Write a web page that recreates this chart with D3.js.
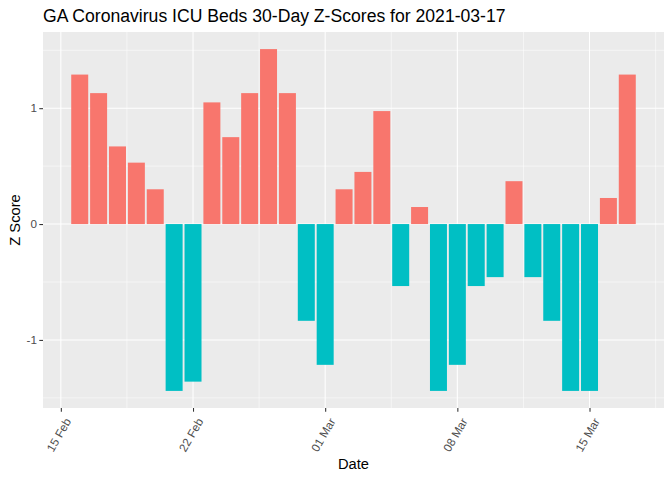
<!DOCTYPE html>
<html>
<head>
<meta charset="utf-8">
<script src="https://cdn.jsdelivr.net/npm/d3@7"></script>
<style>
  body { margin: 0; background: #fff; }
  svg { display: block; font-family: "Liberation Sans", Arial, sans-serif; }
</style>
</head>
<body>
<svg width="672" height="480"></svg>
<script>
const dates = [
  "2021-02-16", "2021-02-17", "2021-02-18", "2021-02-19", "2021-02-20",
  "2021-02-21", "2021-02-22", "2021-02-23", "2021-02-24", "2021-02-25",
  "2021-02-26", "2021-02-27", "2021-02-28", "2021-03-01", "2021-03-02",
  "2021-03-03", "2021-03-04", "2021-03-05", "2021-03-06", "2021-03-07",
  "2021-03-08", "2021-03-09", "2021-03-10", "2021-03-11", "2021-03-12",
  "2021-03-13", "2021-03-14", "2021-03-15", "2021-03-16", "2021-03-17"
];
const zScores = [
  1.29, 1.13, 0.67, 0.53, 0.30,
  -1.44, -1.36, 1.05, 0.75, 1.13,
  1.51, 1.13, -0.835, -1.215, 0.30,
  0.45, 0.975, -0.535, 0.147, -1.44,
  -1.215, -0.535, -0.458, 0.37, -0.458,
  -0.835, -1.44, -1.44, 0.225, 1.29
];
const xTickDates = ["2021-02-15", "2021-02-22", "2021-03-01", "2021-03-08", "2021-03-15"];
const yTicks = [-1, 0, 1];
const titleText = "GA Coronavirus ICU Beds 30-Day Z-Scores for 2021-03-17";

const parse = d3.utcParse("%Y-%m-%d");
const fmt = d3.utcFormat("%d %b");
const DAY = 86400000;

const data = dates.map((d, i) => ({date: parse(d), z: zScores[i]}));

const svg = d3.select("svg");
const panel = {left: 43, right: 664, top: 32, bottom: 408};

// ggplot style expansion of 5% on both axes
const barW = 0.9;
let xMin = d3.min(data, d => d.date.getTime()) - barW / 2 * DAY;
let xMax = d3.max(data, d => d.date.getTime()) + barW / 2 * DAY;
let xPad = (xMax - xMin) * 0.05;
const x = d3.scaleUtc()
  .domain([new Date(xMin - xPad), new Date(xMax + xPad)])
  .range([panel.left, panel.right]);

let yMin = Math.min(0, d3.min(zScores));
let yMax = Math.max(0, d3.max(zScores));
let yPad = (yMax - yMin) * 0.05;
const y = d3.scaleLinear()
  .domain([yMin - yPad, yMax + yPad])
  .range([panel.bottom, panel.top]);

// panel background
svg.append("rect")
  .attr("x", panel.left).attr("y", panel.top)
  .attr("width", panel.right - panel.left)
  .attr("height", panel.bottom - panel.top)
  .attr("fill", "#EBEBEB");

// minor grid
const yMinor = [-1.5, -0.5, 0.5, 1.5].filter(v => v >= y.domain()[0] && v <= y.domain()[1]);
const xMajor = xTickDates.map(parse);
const xMinor = [];
xMajor.forEach((d, i) => {
  xMinor.push(new Date(d.getTime() - 3.5 * DAY));
});
xMinor.push(new Date(xMajor[xMajor.length - 1].getTime() + 3.5 * DAY));
const xMinorIn = xMinor.filter(d => d >= x.domain()[0] && d <= x.domain()[1]);

const grid = svg.append("g");
grid.selectAll(".ymin").data(yMinor).join("line")
  .attr("x1", panel.left).attr("x2", panel.right)
  .attr("y1", d => y(d)).attr("y2", d => y(d))
  .attr("stroke", "#fff").attr("stroke-width", 0.53);
grid.selectAll(".xmin").data(xMinorIn).join("line")
  .attr("y1", panel.top).attr("y2", panel.bottom)
  .attr("x1", d => x(d)).attr("x2", d => x(d))
  .attr("stroke", "#fff").attr("stroke-width", 0.53);
grid.selectAll(".ymaj").data(yTicks).join("line")
  .attr("x1", panel.left).attr("x2", panel.right)
  .attr("y1", d => y(d)).attr("y2", d => y(d))
  .attr("stroke", "#fff").attr("stroke-width", 1.07);
grid.selectAll(".xmaj").data(xMajor).join("line")
  .attr("y1", panel.top).attr("y2", panel.bottom)
  .attr("x1", d => x(d)).attr("x2", d => x(d))
  .attr("stroke", "#fff").attr("stroke-width", 1.07);

// bars
const bw = x(new Date(barW * DAY)) - x(new Date(0));
svg.append("g").selectAll("rect").data(data).join("rect")
  .attr("x", d => x(d.date) - bw / 2)
  .attr("width", bw)
  .attr("y", d => y(Math.max(0, d.z)))
  .attr("height", d => Math.abs(y(d.z) - y(0)))
  .attr("fill", d => d.z > 0 ? "#F8766D" : "#00BFC4");

// axes
const xAxis = svg.append("g")
  .attr("transform", `translate(0,${panel.bottom})`)
  .call(d3.axisBottom(x).tickValues(xMajor).tickFormat(fmt).tickSize(3.7).tickSizeOuter(0));
xAxis.select(".domain").remove();
xAxis.selectAll(".tick line").attr("stroke", "#333").attr("stroke-width", 1.07);
xAxis.selectAll(".tick text")
  .attr("fill", "#4D4D4D")
  .style("font-size", "11.7px")
  .attr("text-anchor", "end")
  .attr("x", 0).attr("y", 0).attr("dy", "0.71em")
  .attr("transform", "translate(3,9) rotate(-60)");

const yAxis = svg.append("g")
  .attr("transform", `translate(${panel.left},0)`)
  .call(d3.axisLeft(y).tickValues(yTicks).tickFormat(d => String(d)).tickSize(3.7).tickSizeOuter(0));
yAxis.select(".domain").remove();
yAxis.selectAll(".tick line").attr("stroke", "#333").attr("stroke-width", 1.07);
yAxis.selectAll(".tick text")
  .attr("fill", "#4D4D4D")
  .style("font-size", "11.7px")
  .attr("x", -6);

// titles
svg.append("text")
  .attr("x", panel.left).attr("y", 22)
  .style("font-size", "17.6px")
  .attr("fill", "#000")
  .text(titleText);

svg.append("text")
  .attr("x", (panel.left + panel.right) / 2).attr("y", 469)
  .attr("text-anchor", "middle")
  .style("font-size", "14.7px")
  .text("Date");

svg.append("text")
  .attr("transform", `translate(20,${(panel.top + panel.bottom) / 2}) rotate(-90)`)
  .attr("text-anchor", "middle")
  .style("font-size", "14.7px")
  .text("Z Score");
</script>
</body>
</html>
